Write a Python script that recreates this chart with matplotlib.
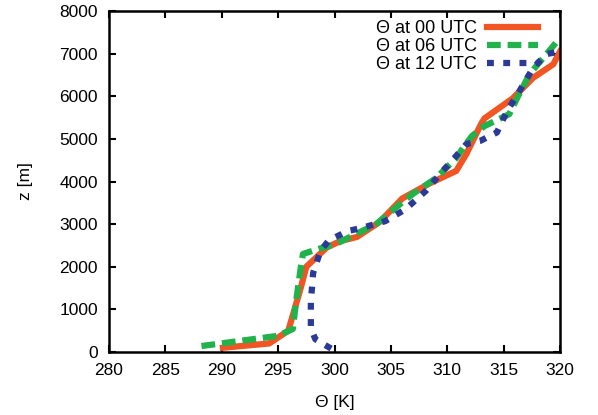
import numpy as np
import matplotlib
matplotlib.use("Agg")
import matplotlib.pyplot as plt

plt.rcParams['font.family'] = ['Liberation Sans', 'DejaVu Sans']

# profils de temperature potentielle
th00 = [290.1, 294.2, 295.9, 297.0, 297.5, 298.3, 299.3, 300.5, 302.0, 304.0, 306.0,
        308.4, 310.8, 311.7, 313.0, 313.3, 315.8, 317.6, 319.4, 320.0]
z00 = [100, 200, 500, 1500, 2000, 2200, 2450, 2600, 2700, 3050, 3600,
       3950, 4250, 4650, 5350, 5480, 5950, 6430, 6750, 7050]

th06 = [288.2, 295.0, 296.3, 296.6, 297.0, 297.2, 298.6, 300.1, 301.6, 303.7, 305.4,
        306.9, 309.0, 310.8, 311.4, 312.2, 313.3, 315.5, 316.2, 317.3, 318.8, 320.0]
z06 = [140, 380, 540, 1200, 1970, 2300, 2420, 2530, 2730, 3000, 3380,
       3700, 4080, 4550, 4790, 5070, 5300, 5580, 5960, 6520, 6990, 7370]

th12 = [299.7, 298.3, 297.9, 297.9, 298.0, 298.1, 298.75, 299.5, 301.2, 302.4, 304.5,
        306.3, 308.1, 309.6, 310.4, 311.7, 312.9, 314.4, 315.3, 316.4, 317.6, 318.8, 320.0]
z12 = [80, 300, 560, 1200, 1500, 1850, 2370, 2620, 2840, 2910, 3070,
       3350, 3780, 4250, 4480, 4880, 4950, 5150, 5650, 6120, 6660, 6990, 7050]

fig = plt.figure(figsize=(5.98, 4.15), dpi=100)
ax = fig.add_axes([0.1823, 0.1518, 0.7542, 0.8217])

ax.plot(th00, z00, color='#f05523', lw=4.5, solid_joinstyle='miter',
        label='Θ at 00 UTC')
ax.plot(th06, z06, color='#22b24c', lw=4.5, dashes=(2.2, 1.1),
        label='Θ at 06 UTC')
ax.plot(th12, z12, color='#2b3a97', lw=4.5, dashes=(1.1, 1.5),
        label='Θ at 12 UTC')

ax.set_xlim(280, 320)
ax.set_ylim(0, 8000)
ax.set_xticks(np.arange(280, 321, 5))
ax.set_yticks(np.arange(0, 8001, 1000))
ax.tick_params(direction='in', top=True, right=True, length=5, width=1.5,
               labelsize=12.5, pad=8)
for s in ax.spines.values():
    s.set_linewidth(1.8)

ax.set_xlabel('Θ [K]', fontsize=12.5, labelpad=12)
ax.set_ylabel('z [m]', fontsize=12.5, labelpad=19)

ax.legend(loc='upper right', bbox_to_anchor=(0.951, 0.973), frameon=False,
          markerfirst=False, fontsize=13, handlelength=2.8, handletextpad=0.6,
          labelspacing=0.05, borderaxespad=0, borderpad=0)

fig.savefig('out.png', dpi=100)
